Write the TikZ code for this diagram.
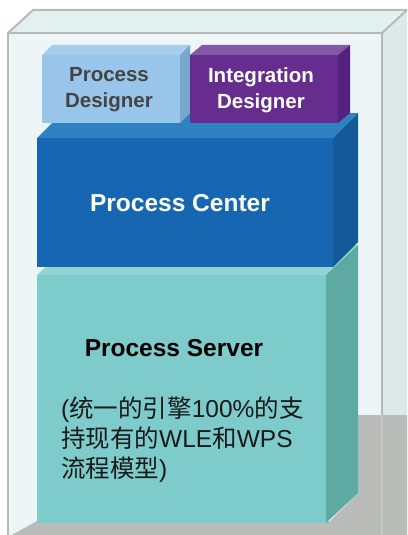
\documentclass[tikz,border=0pt]{standalone}
\usepackage{fontspec}
\setmainfont{Liberation Sans}
\newfontfamily\cjk{Noto Sans CJK SC}
\definecolor{glassfront}{HTML}{EEF5F7}
\definecolor{glasstop}{HTML}{E2F0F0}
\definecolor{glassside}{HTML}{DBE9E9}
\definecolor{glassline}{HTML}{B8B8B8}
\definecolor{floorgray}{HTML}{B9BCB8}
\definecolor{floorline}{HTML}{C6CAC6}
\definecolor{srvfront}{HTML}{7ECBCB}
\definecolor{srvtop}{HTML}{93D3D2}
\definecolor{srvside}{HTML}{5FA9A3}
\definecolor{cenfront}{HTML}{1766B1}
\definecolor{centop}{HTML}{2F82C1}
\definecolor{censide}{HTML}{145A98}
\definecolor{pdfront}{HTML}{9AC5EA}
\definecolor{pdtop}{HTML}{A8CDEC}
\definecolor{pdside}{HTML}{78A6CC}
\definecolor{idfront}{HTML}{662D8F}
\definecolor{idtop}{HTML}{8558A5}
\definecolor{idside}{HTML}{542180}
\definecolor{pdtext}{HTML}{444444}
% #1 x1, #2 y1, #3 x2, #4 y2, #5 dx, #6 dy, #7 front, #8 top, #9 side
\newcommand\threedbox[9]{%
  \fill[#8] (#1,#2) -- ++(#5,-#6) -- (#3+#5,#2-#6) -- (#3,#2) -- cycle;
  \fill[#9] (#3,#2) -- (#3+#5,#2-#6) -- (#3+#5,#4-#6) -- (#3,#4) -- cycle;
  \fill[#7] (#1,#2) rectangle (#3,#4);
}
\tikzset{
  glassedge/.style={draw=glassline, line width=2pt, line join=round},
  lbl/.style={font=\bfseries, inner sep=0pt, align=center},
}
\begin{document}
\begin{tikzpicture}[x=1pt,y=-1pt]
\useasboundingbox (0,0) rectangle (407,535);
% glass case
\fill[glassfront] (8,33) rectangle (382,540);
\fill[glasstop] (8,33) -- (33,10) -- (407,10) -- (382,33) -- cycle;
\fill[glassside] (382,33) -- (407,10) -- (407,540) -- (382,540) -- cycle;
% floor
\fill[floorgray] (10,536) -- (37,521) -- (330,521) -- (358,493) -- (358,415) -- (407,415) -- (407,536) -- cycle;
% boxes
\threedbox{37}{275}{326}{523}{32}{30}{srvfront}{srvtop}{srvside}
\threedbox{37}{138}{333}{267}{25}{25}{cenfront}{centop}{censide}
\threedbox{42}{55}{180}{123}{10}{10}{pdfront}{pdtop}{pdside}
\threedbox{190}{55}{338}{123}{12}{10}{idfront}{idtop}{idside}
% glass edges
\draw[glassedge] (8,536) -- (8,33) -- (382,33) -- (382,415);
\draw[draw=floorline, line width=2pt] (382,415) -- (382,536);
\draw[glassedge] (8,33) -- (33,10) -- (407,10);
\draw[glassedge] (382,33) -- (407,10);
% labels
\node[lbl, text=pdtext, font=\bfseries\fontsize{20.5}{26}\selectfont] (pd) at (109,90) {Process\\Designer};
\node[lbl, text=white, font=\bfseries\fontsize{20.5}{26}\selectfont] (id) at (261,90) {Integration\\Designer};
\node[lbl, text=white, font=\bfseries\fontsize{24.5}{28}\selectfont] (pc) at (180,203) {Process Center};
\node[lbl, text=black, font=\bfseries\fontsize{24.5}{28}\selectfont] (ps) at (174,348) {Process Server};
\node[inner sep=0pt, anchor=north west, align=left, text=black!90, font=\fontsize{24.5}{30}\selectfont] (desc) at (61,397)
  {({\cjk 统一的引擎}100\%{\cjk 的支}\\{\cjk 持现有的}WLE{\cjk 和}WPS\\{\cjk 流程模型})};
\end{tikzpicture}
\end{document}
